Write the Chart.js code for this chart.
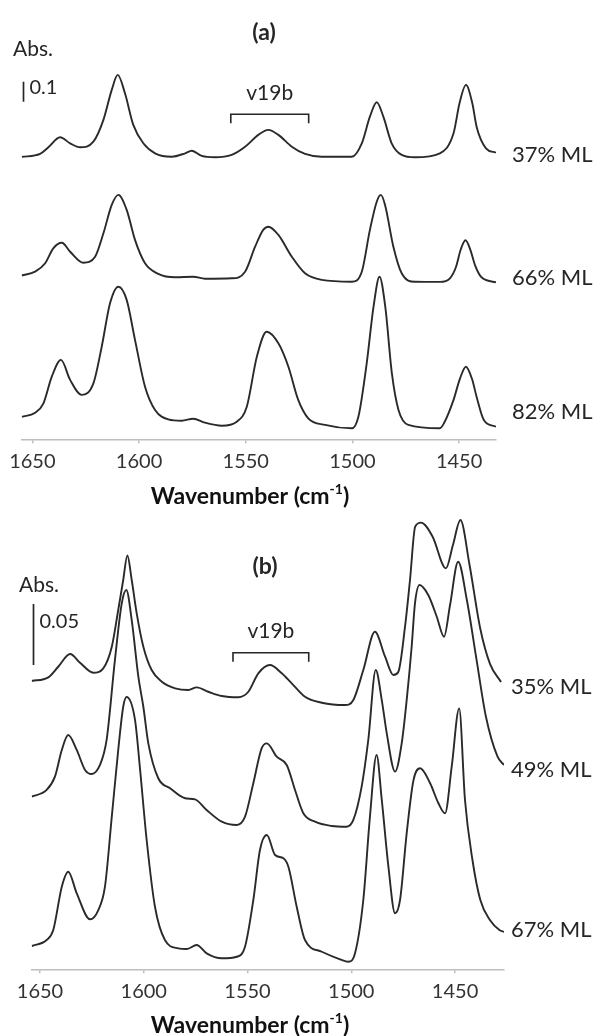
<!DOCTYPE html>
<html>
<head>
<meta charset="utf-8">
<script src="https://cdn.jsdelivr.net/npm/chart.js@4.4.1/dist/chart.umd.min.js"></script>
<style>
  body { margin: 0; background: #fff; }
  #wrap { position: relative; width: 600px; height: 1036px; }
  canvas { position: absolute; left: 0; top: 0; }
</style>
</head>
<body>
<div id="wrap">
  <canvas id="chartA" width="600" height="1036"></canvas>
  <canvas id="chartB" width="600" height="1036"></canvas>
</div>
<script>
// tick labels of both wavenumber axes
const tickVals = [1650, 1600, 1550, 1500, 1450];

// (a) spectra, absorbance with stacking offset
const wn37 = [1655, 1646.4, 1642.5, 1637.0, 1632.3, 1627.6, 1621.4, 1616.7, 1612.8, 1610.0, 1606.6, 1602.7, 1598.0, 1592.5, 1584.7, 1578.4, 1575.3, 1570.6, 1564.4, 1556.6, 1550.3, 1544.1, 1539.4, 1534.7, 1528.4, 1522.2, 1514.4, 1500.3, 1495.6, 1491.8, 1488.6, 1485.5, 1481.6, 1476.9, 1470.7, 1459.0, 1452.6, 1449.8, 1446.8, 1443.8, 1441.8, 1437.4, 1432.7];
const abs37 = [1.412, 1.427, 1.46, 1.51, 1.48, 1.46, 1.488, 1.597, 1.747, 1.822, 1.73, 1.572, 1.48, 1.43, 1.413, 1.43, 1.443, 1.417, 1.41, 1.422, 1.463, 1.522, 1.547, 1.522, 1.463, 1.427, 1.413, 1.413, 1.48, 1.613, 1.685, 1.613, 1.48, 1.422, 1.41, 1.43, 1.53, 1.68, 1.772, 1.68, 1.563, 1.455, 1.433];

const wn66 = [1655, 1648.7, 1644.0, 1640.2, 1636.2, 1632.3, 1626.1, 1620.6, 1616.7, 1612.8, 1609.7, 1605.8, 1601.9, 1597.2, 1591.0, 1583.1, 1574.6, 1569.1, 1556.6, 1550.3, 1545.6, 1541.8, 1539.4, 1534.7, 1528.4, 1522.2, 1514.4, 1500.3, 1495.6, 1491.8, 1488.6, 1486.7, 1484.7, 1480.8, 1476.9, 1470.7, 1459.0, 1454.3, 1451.5, 1449.2, 1447.0, 1444.8, 1442.5, 1439.5, 1432.7];
const abs66 = [0.819, 0.838, 0.88, 0.955, 0.983, 0.938, 0.883, 0.913, 1.03, 1.172, 1.222, 1.147, 0.997, 0.88, 0.827, 0.81, 0.813, 0.803, 0.805, 0.838, 0.963, 1.047, 1.063, 1.022, 0.913, 0.83, 0.797, 0.788, 0.838, 1.047, 1.188, 1.222, 1.172, 0.963, 0.83, 0.788, 0.787, 0.805, 0.86, 0.95, 0.995, 0.95, 0.87, 0.81, 0.785];

const wn82 = [1655, 1648.7, 1644.8, 1640.9, 1636.6, 1632.3, 1626.9, 1621.4, 1617.5, 1613.6, 1609.7, 1605.8, 1601.9, 1597.2, 1592.5, 1586.3, 1580.0, 1574.6, 1569.1, 1561.2, 1554.2, 1549.5, 1544.8, 1540.2, 1534.7, 1530.0, 1525.4, 1520.7, 1512.8, 1500.3, 1497.2, 1493.3, 1490.1, 1487.3, 1484.6, 1481.5, 1478.4, 1473.8, 1459.0, 1457.1, 1452.6, 1449.7, 1446.8, 1443.9, 1441.8, 1438.4, 1432.7];
const abs82 = [0.112, 0.133, 0.18, 0.313, 0.397, 0.297, 0.222, 0.28, 0.463, 0.68, 0.763, 0.697, 0.497, 0.263, 0.147, 0.1, 0.093, 0.103, 0.083, 0.068, 0.088, 0.163, 0.413, 0.538, 0.48, 0.363, 0.197, 0.105, 0.072, 0.055, 0.113, 0.38, 0.663, 0.813, 0.663, 0.33, 0.147, 0.072, 0.055, 0.08, 0.197, 0.3, 0.363, 0.3, 0.213, 0.097, 0.063];

// (b) spectra
const wn35 = [1654, 1646.0, 1641.2, 1635.5, 1630.7, 1624.3, 1619.5, 1615.4, 1612.3, 1609.9, 1607.9, 1605.8, 1603.4, 1600.2, 1596.2, 1591.3, 1584.9, 1578.5, 1574.5, 1568.9, 1562.4, 1554.4, 1549.6, 1544.8, 1539.2, 1533.5, 1528.7, 1522.3, 1514.2, 1503.0, 1499.0, 1494.2, 1488.6, 1483.7, 1479.7, 1477.3, 1474.1, 1471.7, 1469.2, 1466.4, 1460.8, 1454.4, 1451.0, 1447.4, 1443.0, 1437.9, 1433.1, 1427.8];
const abs35 = [0.2363, 0.2393, 0.248, 0.2584, 0.2513, 0.2431, 0.2467, 0.2644, 0.2945, 0.3191, 0.3392, 0.3191, 0.2918, 0.2644, 0.2453, 0.2357, 0.2303, 0.2289, 0.2311, 0.2275, 0.224, 0.223, 0.2275, 0.2426, 0.2494, 0.2426, 0.2344, 0.2234, 0.2185, 0.2166, 0.2207, 0.2453, 0.2767, 0.2562, 0.2412, 0.2439, 0.2808, 0.3191, 0.3628, 0.3661, 0.3546, 0.3287, 0.3478, 0.3683, 0.3314, 0.2798, 0.2502, 0.2355];

const wn49 = [1654, 1646.8, 1642.8, 1639.5, 1636.4, 1632.3, 1628.3, 1625.1, 1621.1, 1617.9, 1613.9, 1610.6, 1608.4, 1605.8, 1602.6, 1600.2, 1597.8, 1593.0, 1587.3, 1580.1, 1575.3, 1569.7, 1562.4, 1555.2, 1551.2, 1547.2, 1543.2, 1540.7, 1535.9, 1531.1, 1527.1, 1523.1, 1517.5, 1509.4, 1502.2, 1499.0, 1495.0, 1491.8, 1488.2, 1485.3, 1482.9, 1478.9, 1475.7, 1473.3, 1470.9, 1469.3, 1467.1, 1462.9, 1458.8, 1455.3, 1452.4, 1448.5, 1444.3, 1439.6, 1435.1, 1429.5, 1426.4];
const abs49 = [0.1415, 0.147, 0.1579, 0.1798, 0.192, 0.1798, 0.1634, 0.1601, 0.1675, 0.188, 0.2535, 0.3, 0.3109, 0.2863, 0.2398, 0.2152, 0.1852, 0.1566, 0.1484, 0.1402, 0.1393, 0.1306, 0.121, 0.1183, 0.1251, 0.1525, 0.1811, 0.1852, 0.1743, 0.1675, 0.147, 0.1279, 0.121, 0.1175, 0.1169, 0.1224, 0.1497, 0.188, 0.2453, 0.2207, 0.1934, 0.162, 0.1852, 0.2207, 0.2644, 0.3, 0.315, 0.3068, 0.289, 0.2726, 0.2986, 0.3341, 0.3027, 0.2535, 0.207, 0.1743, 0.1675];

const wn67 = [1654, 1646.8, 1643.6, 1639.5, 1636.4, 1632.3, 1625.9, 1621.9, 1618.7, 1615.4, 1612.3, 1609.9, 1608.3, 1604.2, 1601.9, 1598.6, 1594.6, 1589.8, 1583.4, 1579.2, 1574.5, 1569.7, 1562.4, 1555.2, 1551.2, 1547.2, 1544.0, 1540.7, 1536.7, 1532.7, 1530.3, 1526.3, 1522.3, 1514.2, 1505.4, 1501.4, 1498.2, 1494.2, 1491.0, 1487.8, 1485.3, 1482.1, 1478.9, 1476.5, 1473.3, 1470.0, 1466.8, 1462.0, 1458.0, 1454.8, 1451.6, 1448.0, 1445.2, 1441.6, 1437.8, 1433.2, 1428.6, 1426.4];
const abs67 = [0.0191, 0.024, 0.0322, 0.0677, 0.08, 0.0623, 0.041, 0.0486, 0.0677, 0.1251, 0.1798, 0.2152, 0.2232, 0.2043, 0.1661, 0.106, 0.0513, 0.024, 0.0172, 0.0166, 0.0199, 0.0131, 0.009, 0.0103, 0.0185, 0.0568, 0.0978, 0.1101, 0.0937, 0.091, 0.0841, 0.0513, 0.024, 0.0144, 0.0082, 0.0062, 0.0131, 0.0568, 0.1251, 0.1757, 0.1388, 0.0841, 0.0459, 0.0568, 0.1115, 0.1552, 0.1648, 0.1525, 0.1361, 0.1279, 0.1661, 0.2139, 0.1388, 0.0896, 0.0568, 0.0404, 0.0322, 0.0306];

const labelsA = ['37% ML', '66% ML', '82% ML'];
const labelsB = ['35% ML', '49% ML', '67% ML'];

Chart.defaults.font.family = 'Lato, "Open Sans", sans-serif';
Chart.defaults.color = '#404040';

function toPoints(wn, ab) {
  return wn.map((w, i) => ({ x: w, y: ab[i] }));
}

function lineSet(label, wn, ab) {
  return {
    label: label,
    data: toPoints(wn, ab),
    borderColor: '#2a2a2a',
    borderWidth: 1.9,
    pointRadius: 0,
    fill: false,
    cubicInterpolationMode: 'monotone'
  };
}

// texts, scale bar, bracket and axis title drawn on top
const annotate = {
  id: 'annotate',
  afterDraw(chart, args, o) {
    const ctx = chart.ctx;
    const xs = chart.scales.x, ys = chart.scales.y;
    ctx.save();
    ctx.fillStyle = '#262626';
    ctx.strokeStyle = '#262626';
    ctx.textBaseline = 'middle';

    ctx.textAlign = 'center';
    ctx.font = 'bold 23px Lato';
    ctx.fillText(o.letter, o.letterX, o.letterY);

    ctx.textAlign = 'left';
    ctx.font = '21px Lato';
    ctx.fillText('Abs.', o.absX, o.absY);

    // scale bar
    const b0 = ys.getPixelForValue(o.barBase);
    const b1 = ys.getPixelForValue(o.barBase + o.barValue);
    ctx.lineWidth = 1.7;
    ctx.beginPath();
    ctx.moveTo(o.barX, b0);
    ctx.lineTo(o.barX, b1);
    ctx.stroke();
    ctx.font = '20px Lato';
    ctx.fillText(String(o.barValue), o.barX + 6, o.barTextY);

    // v19b bracket
    const l = xs.getPixelForValue(o.bracket[0]);
    const r = xs.getPixelForValue(o.bracket[1]);
    ctx.lineWidth = 1.6;
    ctx.beginPath();
    ctx.moveTo(l, o.bracketY + 9);
    ctx.lineTo(l, o.bracketY);
    ctx.lineTo(r, o.bracketY);
    ctx.lineTo(r, o.bracketY + 9);
    ctx.stroke();
    ctx.textAlign = 'center';
    ctx.font = '21px Lato';
    ctx.fillText('v19b', (l + r) / 2, o.bracketY - 21);

    // series labels at the right end
    ctx.textAlign = 'left';
    ctx.font = '22px Lato';
    chart.data.datasets.forEach((ds, i) => {
      ctx.fillText(ds.label, o.labelX, o.labelY[i]);
    });

    // axis title with superscript
    ctx.fillStyle = '#111';
    const t1 = 'Wavenumber (cm', t2 = '-1', t3 = ')';
    ctx.font = 'bold 23px Lato';
    const w1 = ctx.measureText(t1).width, w3 = ctx.measureText(t3).width;
    ctx.font = 'bold 14px Lato';
    const w2 = ctx.measureText(t2).width;
    let sx = o.titleX - (w1 + w2 + w3) / 2;
    ctx.font = 'bold 23px Lato';
    ctx.fillText(t1, sx, o.titleY);
    ctx.font = 'bold 14px Lato';
    ctx.fillText(t2, sx + w1, o.titleY - 8);
    ctx.font = 'bold 23px Lato';
    ctx.fillText(t3, sx + w1 + w2, o.titleY);
    ctx.restore();
  }
};

function makeChart(id, sets, opt) {
  return new Chart(document.getElementById(id), {
    type: 'line',
    data: { datasets: sets },
    options: {
      responsive: false,
      animation: false,
      events: [],
      layout: { padding: opt.padding },
      plugins: {
        legend: { display: false },
        tooltip: { enabled: false },
        annotate: opt.notes
      },
      scales: {
        x: {
          type: 'linear',
          reverse: true,
          min: opt.xMin,
          max: opt.xMax,
          afterBuildTicks: (s) => { s.ticks = tickVals.map(v => ({ value: v })); },
          afterFit: (s) => { s.height = opt.axisH; },
          ticks: {
            font: { size: 20 },
            color: '#333',
            padding: 6,
            maxRotation: 0,
            callback: (v) => String(v)
          },
          grid: { drawOnChartArea: false, color: '#bdbdbd', tickLength: 4, lineWidth: 1.5 },
          border: { color: '#bdbdbd', width: 1.5 }
        },
        y: { display: false, min: 0, max: opt.yMax }
      }
    },
    plugins: [annotate]
  });
}

makeChart('chartA', [
  lineSet(labelsA[0], wn37, abs37),
  lineSet(labelsA[1], wn66, abs66),
  lineSet(labelsA[2], wn82, abs82)
], {
  padding: { top: 39.3, bottom: 521, left: 21.7, right: 104 },
  xMin: 1432.7, xMax: 1655, yMax: 2.0, axisH: 75.7,
  notes: {
    letter: '(a)', letterX: 264, letterY: 33,
    absX: 13, absY: 49,
    barX: 23.5, barBase: 1.688, barValue: 0.1, barTextY: 88,
    bracket: [1557, 1520.5], bracketY: 114.3,
    labelX: 512, labelY: [155, 278, 411.7],
    titleX: 250, titleY: 497
  }
});

makeChart('chartB', [
  lineSet(labelsB[0], wn35, abs35),
  lineSet(labelsB[1], wn49, abs49),
  lineSet(labelsB[2], wn67, abs67)
], {
  padding: { top: 481.3, bottom: 0, left: 31.7, right: 96 },
  xMin: 1426.4, xMax: 1654, yMax: 0.4, axisH: 66.7,
  notes: {
    letter: '(b)', letterX: 265, letterY: 566.7,
    absX: 19, absY: 585,
    barX: 33.5, barBase: 0.2494, barValue: 0.05, barTextY: 621.7,
    bracket: [1557, 1520.5], bracketY: 652.7,
    labelX: 511, labelY: [686.7, 770, 930],
    titleX: 250, titleY: 1026
  }
});
</script>
</body>
</html>
